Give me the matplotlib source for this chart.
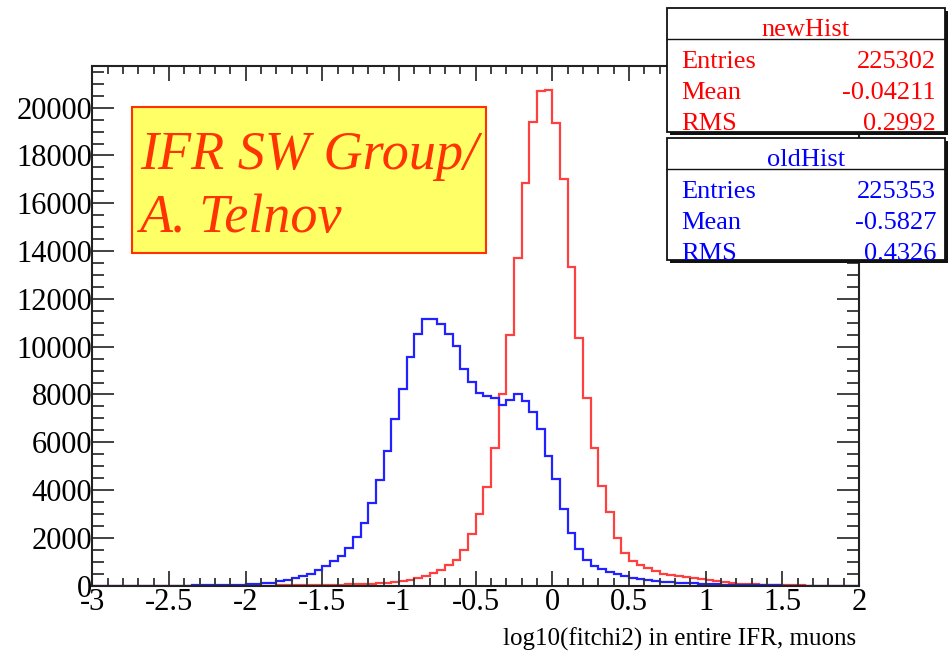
import matplotlib
matplotlib.use("Agg")
import matplotlib.pyplot as plt
from matplotlib.patches import Rectangle
from matplotlib.ticker import MultipleLocator
import numpy as np

plt.rcParams['font.family'] = ['Liberation Serif', 'DejaVu Serif']

# log10(fitchi2) binning: 100 bins from -3 to 2
x_lo, x_hi, n_bins = -3.0, 2.0, 100

new_counts = [
    0, 0, 0, 0, 0, 0, 0, 0, 0, 1,
    1, 1, 1, 2, 2, 2, 3, 3, 4, 4,
    5, 6, 7, 8, 10, 12, 15, 18, 22, 27,
    32, 38, 45, 53, 63, 75, 90, 105, 125, 150,
    180, 223, 307, 390, 530, 670, 880, 1089, 1507, 2177,
    3015, 4130, 5765, 8000, 10470, 13690, 16860, 19400, 20700, 20720,
    19370, 17000, 13340, 10370, 7860, 5765, 4187, 3070, 2000, 1370,
    1020, 850, 740, 600, 500, 440, 420, 350, 320, 280,
    220, 180, 140, 110, 90, 70, 55, 42, 32, 24,
    18, 13, 9, 7, 5, 3, 2, 2, 1, 1,
]

old_counts = [
    0, 0, 0, 0, 0, 0, 1, 2, 2, 3,
    4, 6, 8, 11, 15, 19, 24, 30, 38, 48,
    60, 80, 100, 130, 180, 250, 320, 420, 500, 670,
    810, 1020, 1230, 1590, 2040, 2610, 3460, 4420, 5625, 6980,
    8235, 9575, 10510, 11165, 11165, 10970, 10510, 10020, 9070, 8510,
    8070, 7955, 7860, 7580, 7790, 8000, 7720, 7260, 6560, 5440,
    4480, 3200, 2210, 1550, 1075, 830, 690, 580, 500, 420,
    340, 300, 240, 210, 170, 150, 130, 115, 100, 90,
    80, 70, 50, 40, 30, 25, 20, 15, 12, 10,
    8, 6, 5, 4, 3, 2, 2, 1, 1, 0,
]

new_stats = [("Entries", "225302"), ("Mean", "-0.04211"), ("RMS", "0.2992")]
old_stats = [("Entries", "225353"), ("Mean", "-0.5827"), ("RMS", "0.4326")]

W, H = 948, 651
fig = plt.figure(figsize=(W / 100, H / 100), dpi=100)


def fx(px):
    return px / W


def fy(py):
    return 1 - py / H


ax = fig.add_axes([fx(92.3), fy(585.7), fx(859) - fx(92.3), fy(65.7) - fy(585.7)])

edges = np.linspace(x_lo, x_hi, n_bins + 1)
ax.stairs(new_counts, edges, color='#ff4040', lw=1.6, baseline=0)
ax.stairs(old_counts, edges, color='#2222ff', lw=1.6, baseline=0)

ax.set_xlim(x_lo, x_hi)
ax.set_ylim(0, 1.05 * max(new_counts))

ax.xaxis.set_major_locator(MultipleLocator(0.5))
ax.xaxis.set_minor_locator(MultipleLocator(0.1))
ax.yaxis.set_major_locator(MultipleLocator(2000))
ax.yaxis.set_minor_locator(MultipleLocator(500))
ax.xaxis.set_major_formatter(plt.FuncFormatter(lambda v, p: f"{v:g}"))

ax.tick_params(axis='both', which='both', direction='in', top=True, right=True,
               width=1.3, color='#333333', labelsize=22)
ax.tick_params(axis='x', which='major', length=11, pad=2)
ax.tick_params(axis='x', which='minor', length=5.5)
ax.tick_params(axis='y', which='major', length=16, pad=0)
ax.tick_params(axis='y', which='minor', length=8.5)
for lbl in ax.get_yticklabels():
    lbl.set_verticalalignment('center_baseline')
for sp in ax.spines.values():
    sp.set_linewidth(1.5)
    sp.set_color('#222222')

ax.set_xlabel("log10(fitchi2) in entire IFR, muons", fontsize=18, ha='right')
ax.xaxis.set_label_coords(0.996, -0.08)

# author box
ax.add_patch(Rectangle((fx(132.3), fy(253.3)), fx(485.7) - fx(132.3), fy(107.3) - fy(253.3),
                       transform=fig.transFigure, facecolor='#ffff66', edgecolor='#ff3300',
                       lw=1.5, zorder=5))
fig.text(fx(140), fy(169), "IFR SW Group/", fontsize=39, style='italic', color='#ff3300',
         va='baseline', zorder=6)
fig.text(fx(140), fy(231.7), "A. Telnov", fontsize=39, style='italic', color='#ff3300',
         va='baseline', zorder=6)


def stat_box(top, bottom, sep, name, rows, color):
    left, right = 666.7, 945
    fig.add_artist(Rectangle((fx(left + 3), fy(bottom + 3)), fx(right) - fx(left),
                             fy(top) - fy(bottom), transform=fig.transFigure,
                             facecolor='#111111', edgecolor='none', zorder=9))
    fig.add_artist(Rectangle((fx(left), fy(bottom)), fx(right) - fx(left),
                             fy(top) - fy(bottom), transform=fig.transFigure,
                             facecolor='white', edgecolor='#111111', lw=1.3, zorder=10))
    fig.add_artist(plt.Line2D([fx(left), fx(right)], [fy(sep), fy(sep)],
                              transform=fig.transFigure, color='#111111', lw=1.0, zorder=11))
    fig.text(fx((left + right) / 2), fy(sep - 3), name, fontsize=19, color=color,
             ha='center', va='baseline', zorder=12)
    for k, (label, val) in enumerate(rows):
        yb = sep + 29 + 30.6 * k
        fig.text(fx(681.7), fy(yb), label, fontsize=19, color=color, va='baseline', zorder=12)
        fig.text(fx(936), fy(yb), val, fontsize=19, color=color, va='baseline', ha='right',
                 zorder=12)


stat_box(8.3, 131.7, 39.3, "newHist", new_stats, '#ff0000')
stat_box(137.7, 260, 169.3, "oldHist", old_stats, '#0000ff')

fig.savefig("out.png", dpi=100)
